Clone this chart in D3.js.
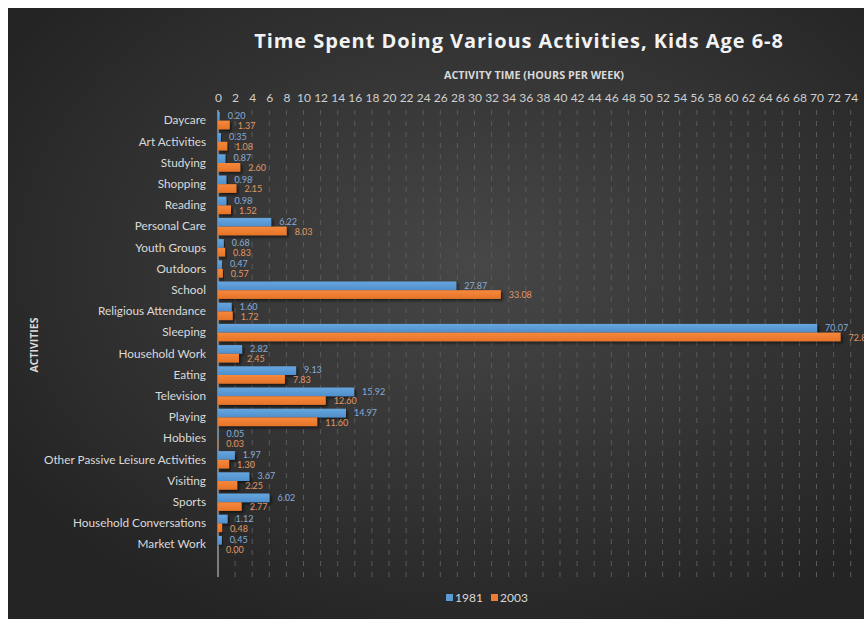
<!DOCTYPE html>
<html>
<head>
<meta charset="utf-8">
<script src="https://cdn.jsdelivr.net/npm/d3@7"></script>
<style>
  html, body { margin: 0; padding: 0; background: #ffffff; }
  svg { display: block; font-family: Lato, "Open Sans", sans-serif; }
</style>
</head>
<body>
<svg id="chart" width="864" height="619"></svg>
<script>
// Weekly hours spent on each activity by kids aged 6-8
const activities = [
  "Daycare", "Art Activities", "Studying", "Shopping", "Reading",
  "Personal Care", "Youth Groups", "Outdoors", "School", "Religious Attendance",
  "Sleeping", "Household Work", "Eating", "Television", "Playing",
  "Hobbies", "Other Passive Leisure Activities", "Visiting", "Sports",
  "Household Conversations", "Market Work"
];
const hours1981 = [
  0.20, 0.35, 0.87, 0.98, 0.98, 6.22, 0.68, 0.47, 27.87, 1.60,
  70.07, 2.82, 9.13, 15.92, 14.97, 0.05, 1.97, 3.67, 6.02, 1.12, 0.45
];
const hours2003 = [
  1.37, 1.08, 2.60, 2.15, 1.52, 8.03, 0.83, 0.57, 33.08, 1.72,
  72.82, 2.45, 7.83, 12.60, 11.60, 0.03, 1.30, 2.25, 2.77, 0.48, 0.00
];
const seriesNames = ["1981", "2003"];
const xTicks = d3.range(0, 75, 2);

const seriesColors = { "1981": "#5b9bd5", "2003": "#ed7d31" };
const labelColors = { "1981": "#86acd8", "2003": "#e09763" };

const svg = d3.select("#chart");
const defs = svg.append("defs");

// Panel background: soft radial glow on charcoal
const bg = defs.append("radialGradient").attr("id", "bgGrad")
  .attr("cx", "55%").attr("cy", "42%").attr("r", "65%");
bg.append("stop").attr("offset", "0%").attr("stop-color", "#474747");
bg.append("stop").attr("offset", "100%").attr("stop-color", "#242424");

// Bar fills with a slight top highlight
function barGradient(id, top, bottom) {
  const g = defs.append("linearGradient").attr("id", id)
    .attr("x1", 0).attr("y1", 0).attr("x2", 0).attr("y2", 1);
  g.append("stop").attr("offset", "0%").attr("stop-color", top);
  g.append("stop").attr("offset", "100%").attr("stop-color", bottom);
}
barGradient("grad1981", "#67a6df", "#4f8fcc");
barGradient("grad2003", "#f6883c", "#e57428");

const shadow = defs.append("filter").attr("id", "barShadow")
  .attr("x", "-5%").attr("y", "-40%").attr("width", "120%").attr("height", "200%");
shadow.append("feDropShadow").attr("dx", 2).attr("dy", 2)
  .attr("stdDeviation", 1.4).attr("flood-color", "#000").attr("flood-opacity", 0.55);

svg.append("rect").attr("x", 8).attr("y", 8).attr("width", 856).attr("height", 611)
  .attr("fill", "url(#bgGrad)");

// Scales
const x = d3.scaleLinear().domain([0, 74]).range([218, 850.7]);
const y = d3.scaleBand().domain(activities).range([110, 555.2]).paddingInner(0.18).paddingOuter(0.09);
const ySub = d3.scaleBand().domain(seriesNames).range([0, y.bandwidth()]);
const gridBottom = 577;

// Title
svg.append("text")
  .attr("x", 519).attr("y", 48)
  .attr("text-anchor", "middle")
  .attr("font-family", "'Open Sans', sans-serif")
  .attr("font-size", 20).attr("font-weight", 700)
  .attr("letter-spacing", 0.95)
  .attr("fill", "#f2f2f2")
  .text("Time Spent Doing Various Activities, Kids Age 6-8");

// X axis title
svg.append("text")
  .attr("x", 534).attr("y", 79)
  .attr("text-anchor", "middle")
  .attr("font-family", "'Open Sans', sans-serif")
  .attr("font-size", 10.8).attr("font-weight", 700)
  .attr("fill", "#d9d9d9")
  .text("ACTIVITY TIME (HOURS PER WEEK)");

// Y axis title
svg.append("text")
  .attr("transform", "translate(38,345) rotate(-90)")
  .attr("text-anchor", "middle")
  .attr("font-family", "'Open Sans', sans-serif")
  .attr("font-size", 10.5).attr("font-weight", 700)
  .attr("fill", "#d9d9d9")
  .text("ACTIVITIES");

// Dashed vertical gridlines
svg.append("g").selectAll("line")
  .data(xTicks.filter(d => d > 0))
  .join("line")
  .attr("x1", d => x(d)).attr("x2", d => x(d))
  .attr("y1", 110).attr("y2", gridBottom)
  .attr("stroke", "#5a5a5a").attr("stroke-width", 1)
  .attr("stroke-dasharray", "5,6");

// Top axis with tick labels only
const xAxis = svg.append("g")
  .attr("transform", "translate(0,102)")
  .call(d3.axisTop(x).tickValues(xTicks).tickSize(0).tickPadding(0).tickFormat(d3.format("d")));
xAxis.select(".domain").remove();
xAxis.selectAll("text")
  .attr("font-size", 12).attr("fill", "#cfcfcf")
  .attr("font-family", "Lato, sans-serif");

// Category axis
const yAxis = svg.append("g")
  .attr("transform", "translate(218,0)")
  .call(d3.axisLeft(y).tickSize(0).tickPadding(12));
yAxis.select(".domain").remove();
yAxis.selectAll("text")
  .attr("font-size", 11.8).attr("fill", "#dadada")
  .attr("font-family", "Lato, sans-serif");
svg.append("line")
  .attr("x1", x(0)).attr("x2", x(0)).attr("y1", 110).attr("y2", gridBottom)
  .attr("stroke", "#9a9a9a").attr("stroke-width", 1.5);

// Bars and value labels
const rows = activities.map((a, i) => ({
  activity: a,
  values: [
    { series: "1981", value: hours1981[i] },
    { series: "2003", value: hours2003[i] }
  ]
}));

const rowG = svg.append("g").selectAll("g")
  .data(rows).join("g")
  .attr("transform", d => `translate(0,${y(d.activity)})`);

rowG.selectAll("rect")
  .data(d => d.values).join("rect")
  .attr("x", x(0))
  .attr("y", d => ySub(d.series))
  .attr("width", d => x(d.value) - x(0))
  .attr("height", ySub.bandwidth())
  .attr("fill", d => `url(#grad${d.series})`)
  .attr("filter", "url(#barShadow)");

rowG.selectAll("text")
  .data(d => d.values).join("text")
  .attr("x", d => x(d.value) + 8)
  .attr("y", d => ySub(d.series) + ySub.bandwidth() / 2 + (d.series === "1981" ? -0.5 : 0.8))
  .attr("dy", "0.35em")
  .attr("font-size", 9)
  .attr("fill", d => labelColors[d.series])
  .text(d => d.value.toFixed(2));

// Legend
const legend = svg.append("g").attr("transform", "translate(446,598)");
const legendItems = legend.selectAll("g")
  .data(seriesNames).join("g")
  .attr("transform", (d, i) => `translate(${i * 45},0)`);
legendItems.append("rect")
  .attr("x", 0).attr("y", -4).attr("width", 7).attr("height", 7)
  .attr("fill", d => seriesColors[d]);
legendItems.append("text")
  .attr("x", 9).attr("y", 0).attr("dy", "0.35em")
  .attr("font-size", 12).attr("fill", "#d9d9d9")
  .text(d => d);
</script>
</body>
</html>
